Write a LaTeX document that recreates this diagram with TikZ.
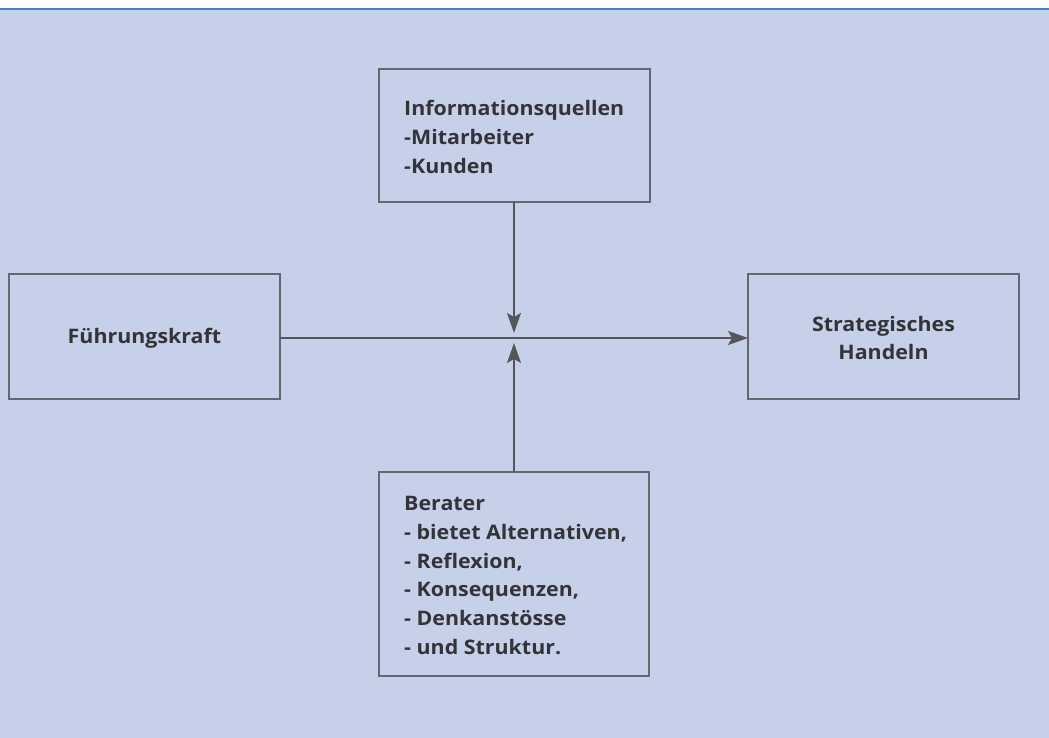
\documentclass[tikz,border=0pt]{standalone}
\usepackage{fontspec}
\setmainfont[FakeStretch=1.07]{Open Sans}
\usetikzlibrary{arrows.meta}
\definecolor{bg}{HTML}{C6D1E9}
\definecolor{topline}{HTML}{3A85C8}
\definecolor{boxline}{HTML}{66666E}
\definecolor{conn}{HTML}{55555A}
\definecolor{txt}{HTML}{333338}
\tikzset{
  box/.style={draw=boxline, line width=2pt, inner sep=0pt},
  lbl/.style={text=txt, font=\bfseries\fontsize{20}{28.8}\selectfont, inner sep=0pt},
  conn/.style={draw=conn, line width=1.6pt, -{Stealth[length=20pt,width=14pt,inset=4pt]}}
}
\begin{document}
\begin{tikzpicture}[x=1pt,y=-1pt]
\useasboundingbox (0,0) rectangle (1049,738);
\fill[white] (0,0) rectangle (1049,8);
\fill[bg] (0,8) rectangle (1049,738);
\fill[topline] (0,8) rectangle (1049,10.5);
% boxes
\draw[box] (379,69) rectangle (650,202);
\coordinate (infoB) at (514,202);
\draw[box] (9,274) rectangle (280,399);
\coordinate (fuehrR) at (280,338);
\draw[box] (748,274) rectangle (1019,399);
\coordinate (stratL) at (748,338);
\draw[box] (379,472) rectangle (649,676);
\coordinate (berT) at (514,472);
\coordinate (cdown) at (514,333);
\coordinate (cup) at (514,343);
% texts
\node[lbl, anchor=north west, align=left] (info) at (404,100) {Informationsquellen\\-Mitarbeiter\\-Kunden};
\node[lbl] (fuehr) at (144.5,338) {Führungskraft};
\node[lbl, align=center] (strat) at (883.5,338) {Strategisches\\Handeln};
\node[lbl, anchor=north west, align=left] (ber) at (404,496) {Berater\\- bietet Alternativen,\\- Reflexion,\\- Konsequenzen,\\- Denkanstösse\\- und Struktur.};
% connectors
\draw[conn] (fuehrR) -- (stratL);
\draw[conn] (infoB) -- (cdown);
\draw[conn] (berT) -- (cup);
\end{tikzpicture}
\end{document}
